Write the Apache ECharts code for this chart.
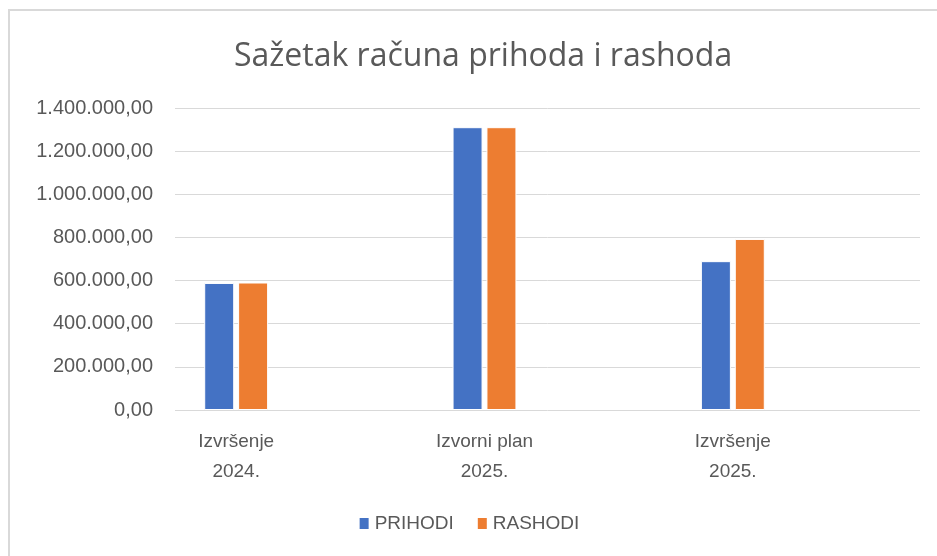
<!DOCTYPE html>
<html lang="hr">
<head>
    <meta charset="UTF-8">
    <title>Sažetak računa prihoda i rashoda</title>
    <script src="https://cdn.jsdelivr.net/npm/echarts@6/dist/echarts.min.js"></script>
    <style>
        html, body { margin: 0; padding: 0; background: #fff; }
        #main { width: 937px; height: 556px; }
    </style>
</head>
<body>
<div id="main"></div>
<script>
    // podaci
    var categories = ['Izvršenje\n2024.', 'Izvorni plan\n2025.', 'Izvršenje\n2025.'];
    var prihodi = [589000, 1311000, 690000];
    var rashodi = [591000, 1311000, 793000];
    var seriesNames = ['PRIHODI', 'RASHODI'];

    function fmt(v) {
        // 1400000 -> 1.400.000,00
        var s = Math.round(v).toString().replace(/\B(?=(\d{3})+(?!\d))/g, '.');
        return s + ',00';
    }

    var myChart = echarts.init(document.getElementById('main'));

    var font = "'Liberation Sans', 'DejaVu Sans', sans-serif";
    var grey = '#595959';

    var option = {
        backgroundColor: '#ffffff',
        textStyle: { fontFamily: font },
        animation: false,
        title: {
            text: 'Sažetak računa prihoda i rashoda',
            left: 229,
            top: 36,
            textStyle: { fontFamily: "'Open Sans', sans-serif", fontWeight: 'normal', fontSize: 32, color: grey }
        },
        graphic: [{
            type: 'polyline',
            shape: { points: [[9, 556], [9, 10], [937, 10]] },
            style: { stroke: '#d9d9d9', lineWidth: 2, fill: null }
        }],
        legend: {
            data: seriesNames,
            bottom: 18,
            left: 'center',
            itemWidth: 11,
            itemHeight: 13,
            itemGap: 22,
            icon: 'rect',
            textStyle: { fontSize: 19, color: grey }
        },
        grid: [
            { left: 175, right: 17, top: 108, bottom: 146 },
            { left: 112, right: 80, top: 108, bottom: 146 }
        ],
        xAxis: [{
            gridIndex: 0,
            type: 'category',
            data: categories,
            show: false
        }, {
            gridIndex: 1,
            type: 'category',
            data: categories,
            axisLine: { show: false },
            axisTick: { show: false },
            axisLabel: { fontSize: 19, color: grey, lineHeight: 30, margin: 17 }
        }],
        yAxis: [{
            gridIndex: 0,
            type: 'value',
            min: 0,
            max: 1400000,
            interval: 200000,
            axisLine: { show: false },
            axisTick: { show: false },
            axisLabel: { fontSize: 20, color: grey, margin: 22, formatter: fmt },
            splitLine: { lineStyle: { color: '#d9d9d9', width: 1 } }
        }, {
            gridIndex: 1,
            type: 'value',
            min: 0,
            max: 1400000,
            interval: 200000,
            show: false
        }],
        series: [{
            name: 'PRIHODI',
            type: 'bar',
            xAxisIndex: 1,
            yAxisIndex: 1,
            data: prihodi,
            barWidth: 30,
            barGap: '13%',
            itemStyle: { color: '#4472c4', borderColor: '#ffffff', borderWidth: 1 }
        }, {
            name: 'RASHODI',
            type: 'bar',
            xAxisIndex: 1,
            yAxisIndex: 1,
            data: rashodi,
            barWidth: 30,
            barGap: '13%',
            itemStyle: { color: '#ed7d31', borderColor: '#ffffff', borderWidth: 1 }
        }]
    };

    myChart.setOption(option);
</script>
</body>
</html>
